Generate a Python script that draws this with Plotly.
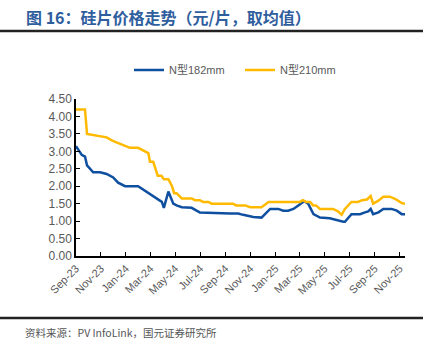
import plotly.graph_objects as go

# N型182mm (blue)
dates_182 = ["2023-09-01","2023-09-15","2023-09-23","2023-09-28","2023-10-13","2023-10-30",
             "2023-11-15","2023-12-01","2023-12-13","2023-12-30","2024-01-31","2024-02-13",
             "2024-02-25","2024-03-08","2024-03-20","2024-03-29","2024-04-03","2024-04-14",
             "2024-04-26","2024-05-04","2024-05-17","2024-06-10","2024-06-22","2024-06-30",
             "2024-09-12","2024-10-02","2024-10-14","2024-11-08","2024-11-28","2024-12-19",
             "2025-01-08","2025-01-20","2025-02-01","2025-02-14","2025-02-26","2025-03-12",
             "2025-03-22","2025-04-04","2025-04-20","2025-05-14","2025-06-16","2025-06-20",
             "2025-07-06","2025-07-27","2025-08-08","2025-08-16","2025-08-22","2025-08-28",
             "2025-09-10","2025-09-22","2025-10-12","2025-10-25","2025-11-06","2025-11-14"]
vals_182 = [3.15,2.9,2.85,2.6,2.4,2.4,
            2.35,2.25,2.1,2.0,2.0,1.9,
            1.8,1.7,1.6,1.55,1.38,1.85,
            1.5,1.45,1.4,1.38,1.3,1.25,
            1.22,1.22,1.18,1.12,1.1,1.35,
            1.35,1.3,1.3,1.35,1.45,1.57,
            1.5,1.2,1.1,1.08,0.98,0.98,
            1.2,1.2,1.25,1.28,1.35,1.2,
            1.25,1.35,1.35,1.3,1.2,1.2]

# N型210mm (yellow)
dates_210 = ["2023-09-01","2023-09-23","2023-09-28","2023-10-21","2023-10-29","2023-11-15",
             "2023-11-30","2023-12-22","2024-01-01","2024-01-11","2024-01-31","2024-02-09",
             "2024-02-25","2024-02-29","2024-03-08","2024-03-19","2024-03-28","2024-04-03",
             "2024-04-14","2024-04-23","2024-04-28","2024-05-04","2024-05-17","2024-06-10",
             "2024-06-18","2024-06-30","2024-07-08","2024-07-21","2024-07-29","2024-09-19",
             "2024-09-27","2024-10-19","2024-10-31","2024-11-28","2024-12-09","2024-12-15",
             "2025-03-02","2025-03-09","2025-03-17","2025-03-27","2025-04-03","2025-04-10",
             "2025-04-20","2025-05-22","2025-06-03","2025-06-12","2025-06-20","2025-06-28",
             "2025-07-06","2025-07-22","2025-08-01","2025-08-13","2025-08-22","2025-08-28",
             "2025-09-09","2025-09-22","2025-10-08","2025-10-23","2025-11-06","2025-11-14"]
vals_210 = [4.2,4.2,3.5,3.45,3.45,3.4,
            3.3,3.2,3.15,3.1,3.1,3.05,
            2.95,2.7,2.7,2.3,2.3,2.2,
            2.2,2.0,1.8,1.8,1.65,1.65,
            1.6,1.6,1.55,1.55,1.5,1.5,
            1.45,1.45,1.4,1.4,1.5,1.55,
            1.55,1.6,1.55,1.55,1.45,1.45,
            1.35,1.35,1.28,1.18,1.35,1.45,
            1.55,1.55,1.6,1.62,1.72,1.5,
            1.58,1.7,1.7,1.62,1.52,1.5]

tick_dates = ["2023-09-01","2023-11-01","2024-01-01","2024-03-01","2024-05-01","2024-07-01",
              "2024-09-01","2024-11-01","2025-01-01","2025-03-01","2025-05-01","2025-07-01",
              "2025-09-01","2025-11-01"]
tick_labels = ["Sep-23","Nov-23","Jan-24","Mar-24","May-24","Jul-24","Sep-24","Nov-24",
               "Jan-25","Mar-25","May-25","Jul-25","Sep-25","Nov-25"]

BLUE = "#0F4FA0"
YELLOW = "#FFBA00"
GRAY = "#595959"

fig = go.Figure()
fig.add_trace(go.Scatter(x=dates_182, y=vals_182, mode="lines", name="N型182mm",
                         line=dict(color=BLUE, width=2.5)))
fig.add_trace(go.Scatter(x=dates_210, y=vals_210, mode="lines", name="N型210mm",
                         line=dict(color=YELLOW, width=2.5)))

W, H = 444, 353
L, R, T, B = 76, 39, 99, 97
pw, ph = W - L - R, H - T - B

def px(x):
    return (x - L) / pw

def py(y):
    return (H - B - y) / ph

fig.update_layout(
    width=W, height=H,
    margin=dict(l=L, r=R, t=T, b=B),
    paper_bgcolor="white", plot_bgcolor="white",
    font=dict(family="Liberation Sans, Arial, Noto Sans CJK SC", size=11, color=GRAY),
    showlegend=True,
    legend=dict(orientation="h", x=px(129), y=py(70), xanchor="left", yanchor="middle",
                font=dict(size=11, color=GRAY, family="Liberation Sans, Noto Sans CJK SC"),
                entrywidth=66, entrywidthmode="pixels",
                tracegroupgap=0, bgcolor="rgba(0,0,0,0)"),
    xaxis=dict(type="date", range=["2023-09-01", "2025-11-14"],
               tickvals=tick_dates, ticktext=tick_labels, tickangle=-45,
               showline=True, linecolor="black", linewidth=1.5,
               ticks="inside", ticklen=4, tickcolor="black",
               showgrid=False, zeroline=False,
               tickfont=dict(size=11, color=GRAY)),
    yaxis=dict(range=[0, 4.5], dtick=0.5, tickformat=".2f",
               showline=True, linecolor="black", linewidth=1.5,
               ticks="inside", ticklen=4, tickcolor="black",
               showgrid=False, zeroline=False,
               tickfont=dict(size=12, color=GRAY)),
    shapes=[
        dict(type="line", xref="paper", yref="paper", x0=px(0), x1=px(423),
             y0=py(31), y1=py(31), line=dict(color="#222222", width=2.5)),
        dict(type="line", xref="paper", yref="paper", x0=px(0), x1=px(423),
             y0=py(318), y1=py(318), line=dict(color="#222222", width=2.5)),
    ],
    annotations=[
        dict(text="<b>图 16：硅片价格走势（元/片，取均值）</b>", xref="paper", yref="paper",
             x=px(24), y=py(17), xanchor="left", yanchor="middle", showarrow=False,
             font=dict(size=16, color="#2F5E9E", family="Noto Sans CJK SC")),
        dict(text="资料来源：PV InfoLink，国元证券研究所", xref="paper", yref="paper",
             x=px(23), y=py(332), xanchor="left", yanchor="middle", showarrow=False,
             font=dict(size=10.5, color="#555555", family="Noto Sans CJK SC")),
    ],
)

fig.write_html("out.html")
